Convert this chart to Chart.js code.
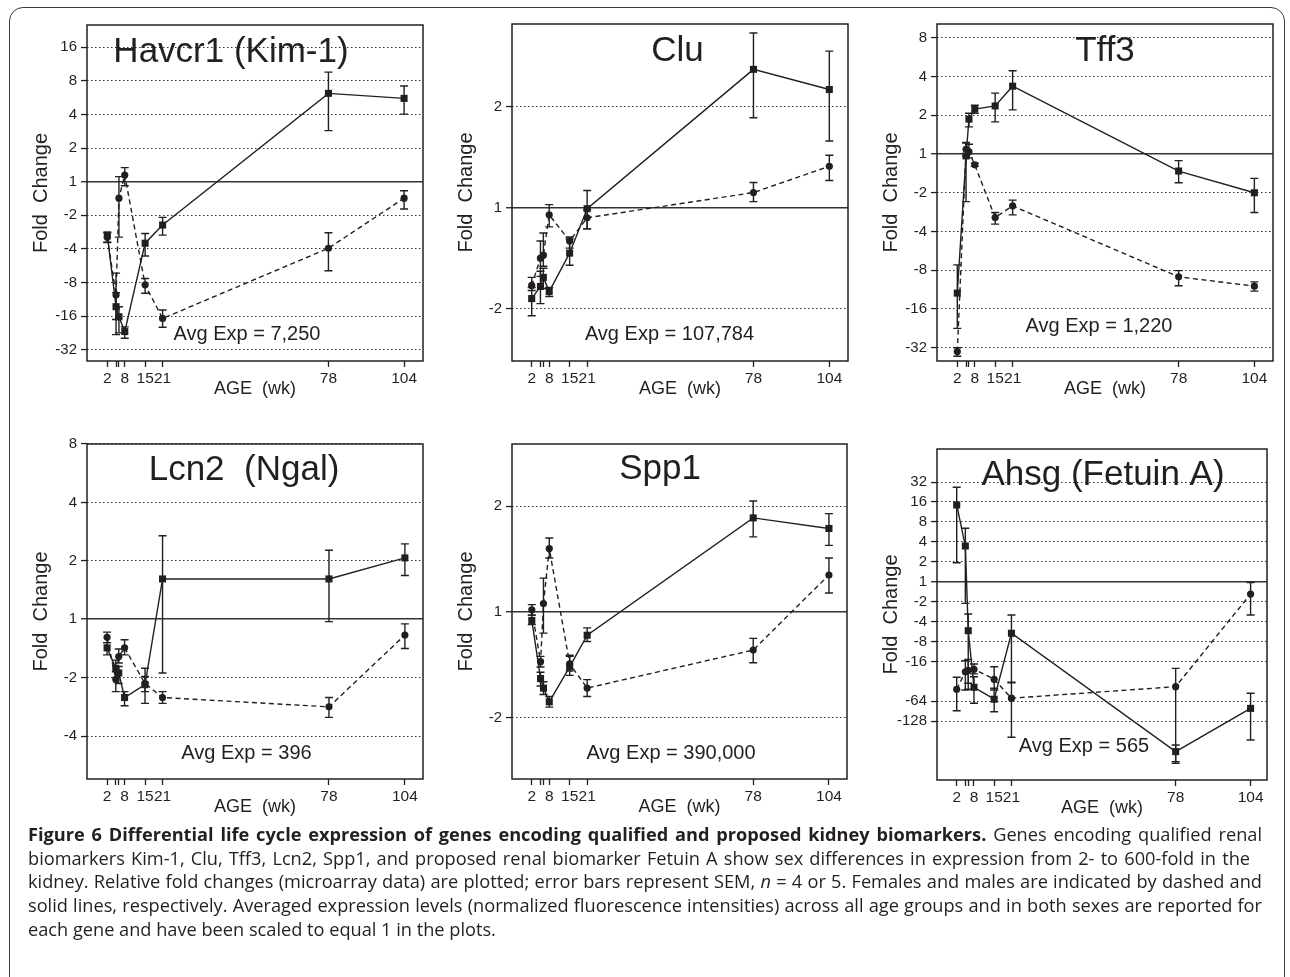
<!DOCTYPE html>
<html>
<head>
<meta charset="utf-8">
<script src="https://cdn.jsdelivr.net/npm/chart.js@4.4.1/dist/chart.umd.min.js"></script>
<style>
    html, body { margin: 0; padding: 0; background: #fff; }
    body { width: 1290px; height: 977px; position: relative; overflow: hidden; }
    .frame {
        position: absolute; left: 9px; top: 7px; width: 1276px; height: 1010px;
        border: 1.5px solid #3a3a3a; border-radius: 14px; box-sizing: border-box;
    }
    canvas { position: absolute; }
    .caption {
        position: absolute; left: 28px; top: 823px;
        font-family: "Open Sans", sans-serif; font-size: 18.2px; line-height: 23.7px;
        color: #231f20;
    }
    .caption div { width: 1234px; text-align: justify; text-align-last: justify; white-space: normal; }
    .caption div.short { width: 1222px; }
    .caption div.last { text-align: left; text-align-last: left; }
    .caption b { font-weight: 700; }
</style>
</head>
<body>
<div class="frame"></div>
<canvas id="havcr1"></canvas>
<canvas id="clu"></canvas>
<canvas id="tff3"></canvas>
<canvas id="lcn2"></canvas>
<canvas id="spp1"></canvas>
<canvas id="ahsg"></canvas>
<div class="caption">
<div><b>Figure 6 Differential life cycle expression of genes encoding qualified and proposed kidney biomarkers.</b> Genes encoding qualified renal</div>
<div class="short">biomarkers Kim-1, Clu, Tff3, Lcn2, Spp1, and proposed renal biomarker Fetuin A show sex differences in expression from 2- to 600-fold in the</div>
<div>kidney. Relative fold changes (microarray data) are plotted; error bars represent SEM, <i>n</i> = 4 or 5. Females and males are indicated by dashed and</div>
<div>solid lines, respectively. Averaged expression levels (normalized fluorescence intensities) across all age groups and in both sexes are reported for</div>
<div class="last">each gene and have been scaled to equal 1 in the plots.</div>
</div>

<script>
// Ages (weeks) and x tick labels
const ages = [2, 5, 6, 8, 15, 21, 78, 104];
const ageLabels = ["2", "", "", "8", "15", "21", "78", "104"];

// All values are log2 fold change (tick "-4" = 1/4 fold)
// Havcr1 (Kim-1)
const havcr1Male = [-1.59, -3.72, -4.02, -4.46, -1.83, -1.29, 2.63, 2.48];
const havcr1MaleHi = [-1.50, -3.30, -3.72, -4.32, -1.54, -1.06, 3.26, 2.85];
const havcr1MaleLo = [-1.81, -4.55, -4.50, -4.66, -2.21, -1.59, 1.52, 2.01];
const havcr1Female = [-1.65, -3.37, -0.49, 0.20, -3.07, -4.07, -1.98, -0.49];
const havcr1FemaleHi = [-1.52, -2.72, 0.15, 0.42, -2.88, -3.82, -1.52, -0.27];
const havcr1FemaleLo = [-1.80, -4.10, -1.65, -0.12, -3.32, -4.33, -2.65, -0.81];

// Clu
const cluMale = [-0.90, -0.78, -0.69, -0.83, -0.45, -0.01, 1.37, 1.17];
const cluMaleHi = [-0.79, -0.63, -0.60, -0.79, -0.31, 0.17, 1.73, 1.55];
const cluMaleLo = [-1.07, -0.95, -0.80, -0.88, -0.57, -0.21, 0.89, 0.66];
const cluFemale = [-0.77, -0.50, -0.47, -0.07, -0.33, -0.10, 0.15, 0.41];
const cluFemaleHi = [-0.69, -0.33, -0.25, 0.03, -0.29, -0.02, 0.25, 0.52];
const cluFemaleLo = [-0.82, -0.68, -0.58, -0.19, -0.40, -0.21, 0.06, 0.27];

// Tff3
const tff3Male = [-3.59, -0.05, 0.90, 1.16, 1.24, 1.75, -0.44, -1.00];
const tff3MaleHi = [-2.86, 0.28, 1.05, 1.26, 1.57, 2.15, -0.17, -0.63];
const tff3MaleLo = [-4.50, -1.23, 0.70, 1.05, 0.83, 1.14, -0.74, -1.51];
const tff3Female = [-5.10, 0.12, 0.06, -0.28, -1.64, -1.34, -3.17, -3.41];
const tff3FemaleHi = [-5.00, 0.30, 0.25, -0.24, -1.51, -1.19, -3.01, -3.30];
const tff3FemaleLo = [-5.22, -0.05, -0.10, -0.32, -1.81, -1.57, -3.40, -3.54];

// Lcn2 (Ngal)
const lcn2Male = [-0.49, -0.84, -0.92, -1.34, -1.12, 0.69, 0.69, 1.05];
const lcn2MaleHi = [-0.40, -0.70, -0.81, -1.24, -0.84, 1.43, 1.18, 1.29];
const lcn2MaleLo = [-0.61, -1.00, -1.10, -1.48, -1.44, -0.92, -0.04, 0.75];
const lcn2Female = [-0.31, -1.03, -0.64, -0.49, -1.10, -1.34, -1.50, -0.27];
const lcn2FemaleHi = [-0.22, -0.90, -0.51, -0.35, -0.98, -1.24, -1.34, -0.08];
const lcn2FemaleLo = [-0.40, -1.24, -0.75, -0.61, -1.24, -1.44, -1.68, -0.50];

// Spp1
const spp1Male = [-0.08, -0.63, -0.72, -0.85, -0.52, -0.22, 0.89, 0.79];
const spp1MaleHi = [-0.03, -0.57, -0.66, -0.80, -0.41, -0.15, 1.05, 0.93];
const spp1MaleLo = [-0.12, -0.70, -0.78, -0.90, -0.60, -0.28, 0.71, 0.63];
const spp1Female = [0.02, -0.47, 0.08, 0.60, -0.49, -0.72, -0.36, 0.35];
const spp1FemaleHi = [0.07, -0.42, 0.32, 0.70, -0.42, -0.64, -0.25, 0.51];
const spp1FemaleLo = [-0.03, -0.52, -0.20, 0.51, -0.56, -0.80, -0.48, 0.18];

// Ahsg (Fetuin A)
const ahsgMale = [3.85, 1.79, -2.46, -5.30, -5.90, -2.59, -8.53, -6.36];
const ahsgMaleHi = [4.74, 2.68, -1.62, -4.77, -5.35, -1.67, -8.20, -5.60];
const ahsgMaleLo = [0.95, -1.09, -5.40, -6.10, -6.53, -5.05, -9.12, -7.95];
const ahsgFemale = [-5.40, -4.52, -4.45, -4.40, -4.90, -5.85, -5.27, -0.62];
const ahsgFemaleHi = [-4.80, -3.97, -3.90, -4.13, -4.27, -5.07, -4.35, -0.05];
const ahsgFemaleLo = [-6.48, -5.44, -5.10, -4.63, -5.44, -7.81, -9.04, -1.67];

const INK = "#231f20";
const FONT = '"Liberation Sans", Arial, sans-serif';

// panel layout: box = [left, top, width, height] of the plot frame on the page
const panels = [
    { id: "havcr1", title: "Havcr1 (Kim-1)", avg: "Avg Exp = 7,250", box: [87, 25, 336, 336],
      yMin: -5.336, yMax: 4.664, yTicks: [4, 3, 2, 1, 0, -1, -2, -3, -4, -5], xMin: -4.98, xMax: 110.5,
      titlePos: [144, 36.7], avgPos: [160, 315],
      male: havcr1Male, maleHi: havcr1MaleHi, maleLo: havcr1MaleLo,
      female: havcr1Female, femaleHi: havcr1FemaleHi, femaleLo: havcr1FemaleLo },
    { id: "clu", title: "Clu", avg: "Avg Exp = 107,784", box: [512, 24, 336, 337],
      yMin: -1.518, yMax: 1.819, yTicks: [1, 0, -1], xMin: -4.75, xMax: 110.4,
      titlePos: [165.5, 37], avgPos: [157.5, 316],
      male: cluMale, maleHi: cluMaleHi, maleLo: cluMaleLo,
      female: cluFemale, femaleHi: cluFemaleHi, femaleLo: cluFemaleLo },
    { id: "tff3", title: "Tff3", avg: "Avg Exp = 1,220", box: [937, 24, 336, 337],
      yMin: -5.342, yMax: 3.355, yTicks: [3, 2, 1, 0, -1, -2, -3, -4, -5], xMin: -4.97, xMax: 110.4,
      titlePos: [168, 37], avgPos: [162, 307.7],
      male: tff3Male, maleHi: tff3MaleHi, maleLo: tff3MaleLo,
      female: tff3Female, femaleHi: tff3FemaleHi, femaleLo: tff3FemaleLo },
    { id: "lcn2", title: "Lcn2  (Ngal)", avg: "Avg Exp = 396", box: [87, 444, 336, 335],
      yMin: -2.735, yMax: 3.0, yTicks: [3, 2, 1, 0, -1, -2], xMin: -4.87, xMax: 110.2,
      titlePos: [157, 36], avgPos: [159.5, 315.3],
      male: lcn2Male, maleHi: lcn2MaleHi, maleLo: lcn2MaleLo,
      female: lcn2Female, femaleHi: lcn2FemaleHi, femaleLo: lcn2FemaleLo },
    { id: "spp1", title: "Spp1", avg: "Avg Exp = 390,000", box: [512, 444, 335, 335],
      yMin: -1.58, yMax: 1.589, yTicks: [1, 0, -1], xMin: -4.8, xMax: 110.2,
      titlePos: [148, 35.3], avgPos: [159, 315.3],
      male: spp1Male, maleHi: spp1MaleHi, maleLo: spp1MaleLo,
      female: spp1Female, femaleHi: spp1FemaleHi, femaleLo: spp1FemaleLo },
    { id: "ahsg", title: "Ahsg (Fetuin A)", avg: "Avg Exp = 565", box: [937, 449, 330, 331],
      yMin: -9.955, yMax: 6.66, yTicks: [5, 4, 3, 2, 1, 0, -1, -2, -3, -4, -6, -7], xMin: -4.84, xMax: 109.7,
      titlePos: [166, 36], avgPos: [147, 302.7],
      male: ahsgMale, maleHi: ahsgMaleHi, maleLo: ahsgMaleLo,
      female: ahsgFemale, femaleHi: ahsgFemaleHi, femaleLo: ahsgFemaleLo }
];

// log2 value -> fold change label (negative = fold decrease)
function foldLabel(v) {
    return v >= 0 ? String(Math.pow(2, v)) : "-" + Math.pow(2, -v);
}

// Error bars, frame and in-plot texts
function decoPlugin(p) {
    return {
        id: "deco",
        afterDatasetsDraw(chart) {
            const { ctx, chartArea: a, scales: { x, y } } = chart;
            ctx.save();
            ctx.strokeStyle = INK;
            ctx.lineWidth = 1.4;
            [[p.maleLo, p.maleHi], [p.femaleLo, p.femaleHi]].forEach(([lo, hi]) => {
                ages.forEach((age, i) => {
                    const px = x.getPixelForValue(age);
                    const y1 = y.getPixelForValue(lo[i]);
                    const y2 = y.getPixelForValue(hi[i]);
                    ctx.beginPath();
                    ctx.moveTo(px, y1); ctx.lineTo(px, y2);
                    ctx.moveTo(px - 4, y1); ctx.lineTo(px + 4, y1);
                    ctx.moveTo(px - 4, y2); ctx.lineTo(px + 4, y2);
                    ctx.stroke();
                });
            });
            ctx.lineWidth = 1.5;
            ctx.strokeRect(a.left, a.top, a.right - a.left, a.bottom - a.top);
            ctx.fillStyle = INK;
            ctx.textAlign = "center";
            ctx.textBaseline = "alphabetic";
            ctx.font = "35px " + FONT;
            ctx.fillText(p.title, a.left + p.titlePos[0], a.top + p.titlePos[1]);
            ctx.font = "20px " + FONT;
            ctx.fillText(p.avg, a.left + p.avgPos[0], a.top + p.avgPos[1]);
            ctx.restore();
        }
    };
}

function makeChart(p) {
    const canvas = document.getElementById(p.id);
    const [L, T, W, H] = p.box;
    canvas.width = W + 95;
    canvas.height = H + 60;
    canvas.style.left = (L - 80) + "px";
    canvas.style.top = (T - 15) + "px";

    const toPoints = arr => ages.map((a, i) => ({ x: a, y: arr[i] }));

    new Chart(canvas.getContext("2d"), {
        type: "line",
        data: {
            datasets: [
                {
                    label: "Male",
                    data: toPoints(p.male),
                    borderColor: INK,
                    backgroundColor: INK,
                    borderWidth: 1.4,
                    pointStyle: "rect",
                    pointRadius: 5,
                    pointBorderWidth: 0,
                    pointBackgroundColor: INK,
                    tension: 0
                },
                {
                    label: "Female",
                    data: toPoints(p.female),
                    borderColor: INK,
                    backgroundColor: INK,
                    borderWidth: 1.4,
                    borderDash: [5, 3.5],
                    pointStyle: "circle",
                    pointRadius: 3.6,
                    pointBorderWidth: 0,
                    pointBackgroundColor: INK,
                    tension: 0
                }
            ]
        },
        options: {
            responsive: false,
            animation: false,
            devicePixelRatio: 1,
            layout: { padding: { left: 0, top: 15, right: 15, bottom: 0 } },
            plugins: { legend: { display: false }, tooltip: { enabled: false } },
            scales: {
                x: {
                    type: "linear",
                    min: p.xMin,
                    max: p.xMax,
                    afterBuildTicks: s => { s.ticks = ages.map(v => ({ value: v })); },
                    afterFit: s => { s.height = 45; },
                    grid: { drawOnChartArea: false, drawTicks: true, tickLength: 6, tickColor: INK, tickWidth: 1.3 },
                    border: { display: false },
                    ticks: {
                        autoSkip: false, maxRotation: 0, padding: 2, color: INK,
                        font: { size: 15.5, family: FONT },
                        callback: (v, i) => ageLabels[i]
                    },
                    title: {
                        display: true, text: "AGE  (wk)", color: INK,
                        font: { size: 18, family: FONT }, padding: { top: 0, bottom: 6 }
                    }
                },
                y: {
                    type: "linear",
                    min: p.yMin,
                    max: p.yMax,
                    afterBuildTicks: s => { s.ticks = p.yTicks.map(v => ({ value: v })); },
                    afterFit: s => { s.width = 80; },
                    grid: {
                        color: "#333",
                        lineWidth: c => (c.tick && c.tick.value === 0 ? 1.5 : 1.1),
                        tickLength: 6, tickColor: INK, tickWidth: 1.3
                    },
                    border: {
                        display: false,
                        dash: c => (c.tick && c.tick.value === 0 ? [] : [1.5, 2.5])
                    },
                    ticks: {
                        padding: 4, color: INK,
                        font: { size: 15, family: FONT },
                        callback: v => foldLabel(v)
                    },
                    title: {
                        display: true, text: "Fold  Change", color: INK,
                        font: { size: 20, family: FONT }, padding: { top: 22, bottom: 0 }
                    }
                }
            }
        },
        plugins: [decoPlugin(p)]
    });
}

panels.forEach(makeChart);
</script>
</body>
</html>
